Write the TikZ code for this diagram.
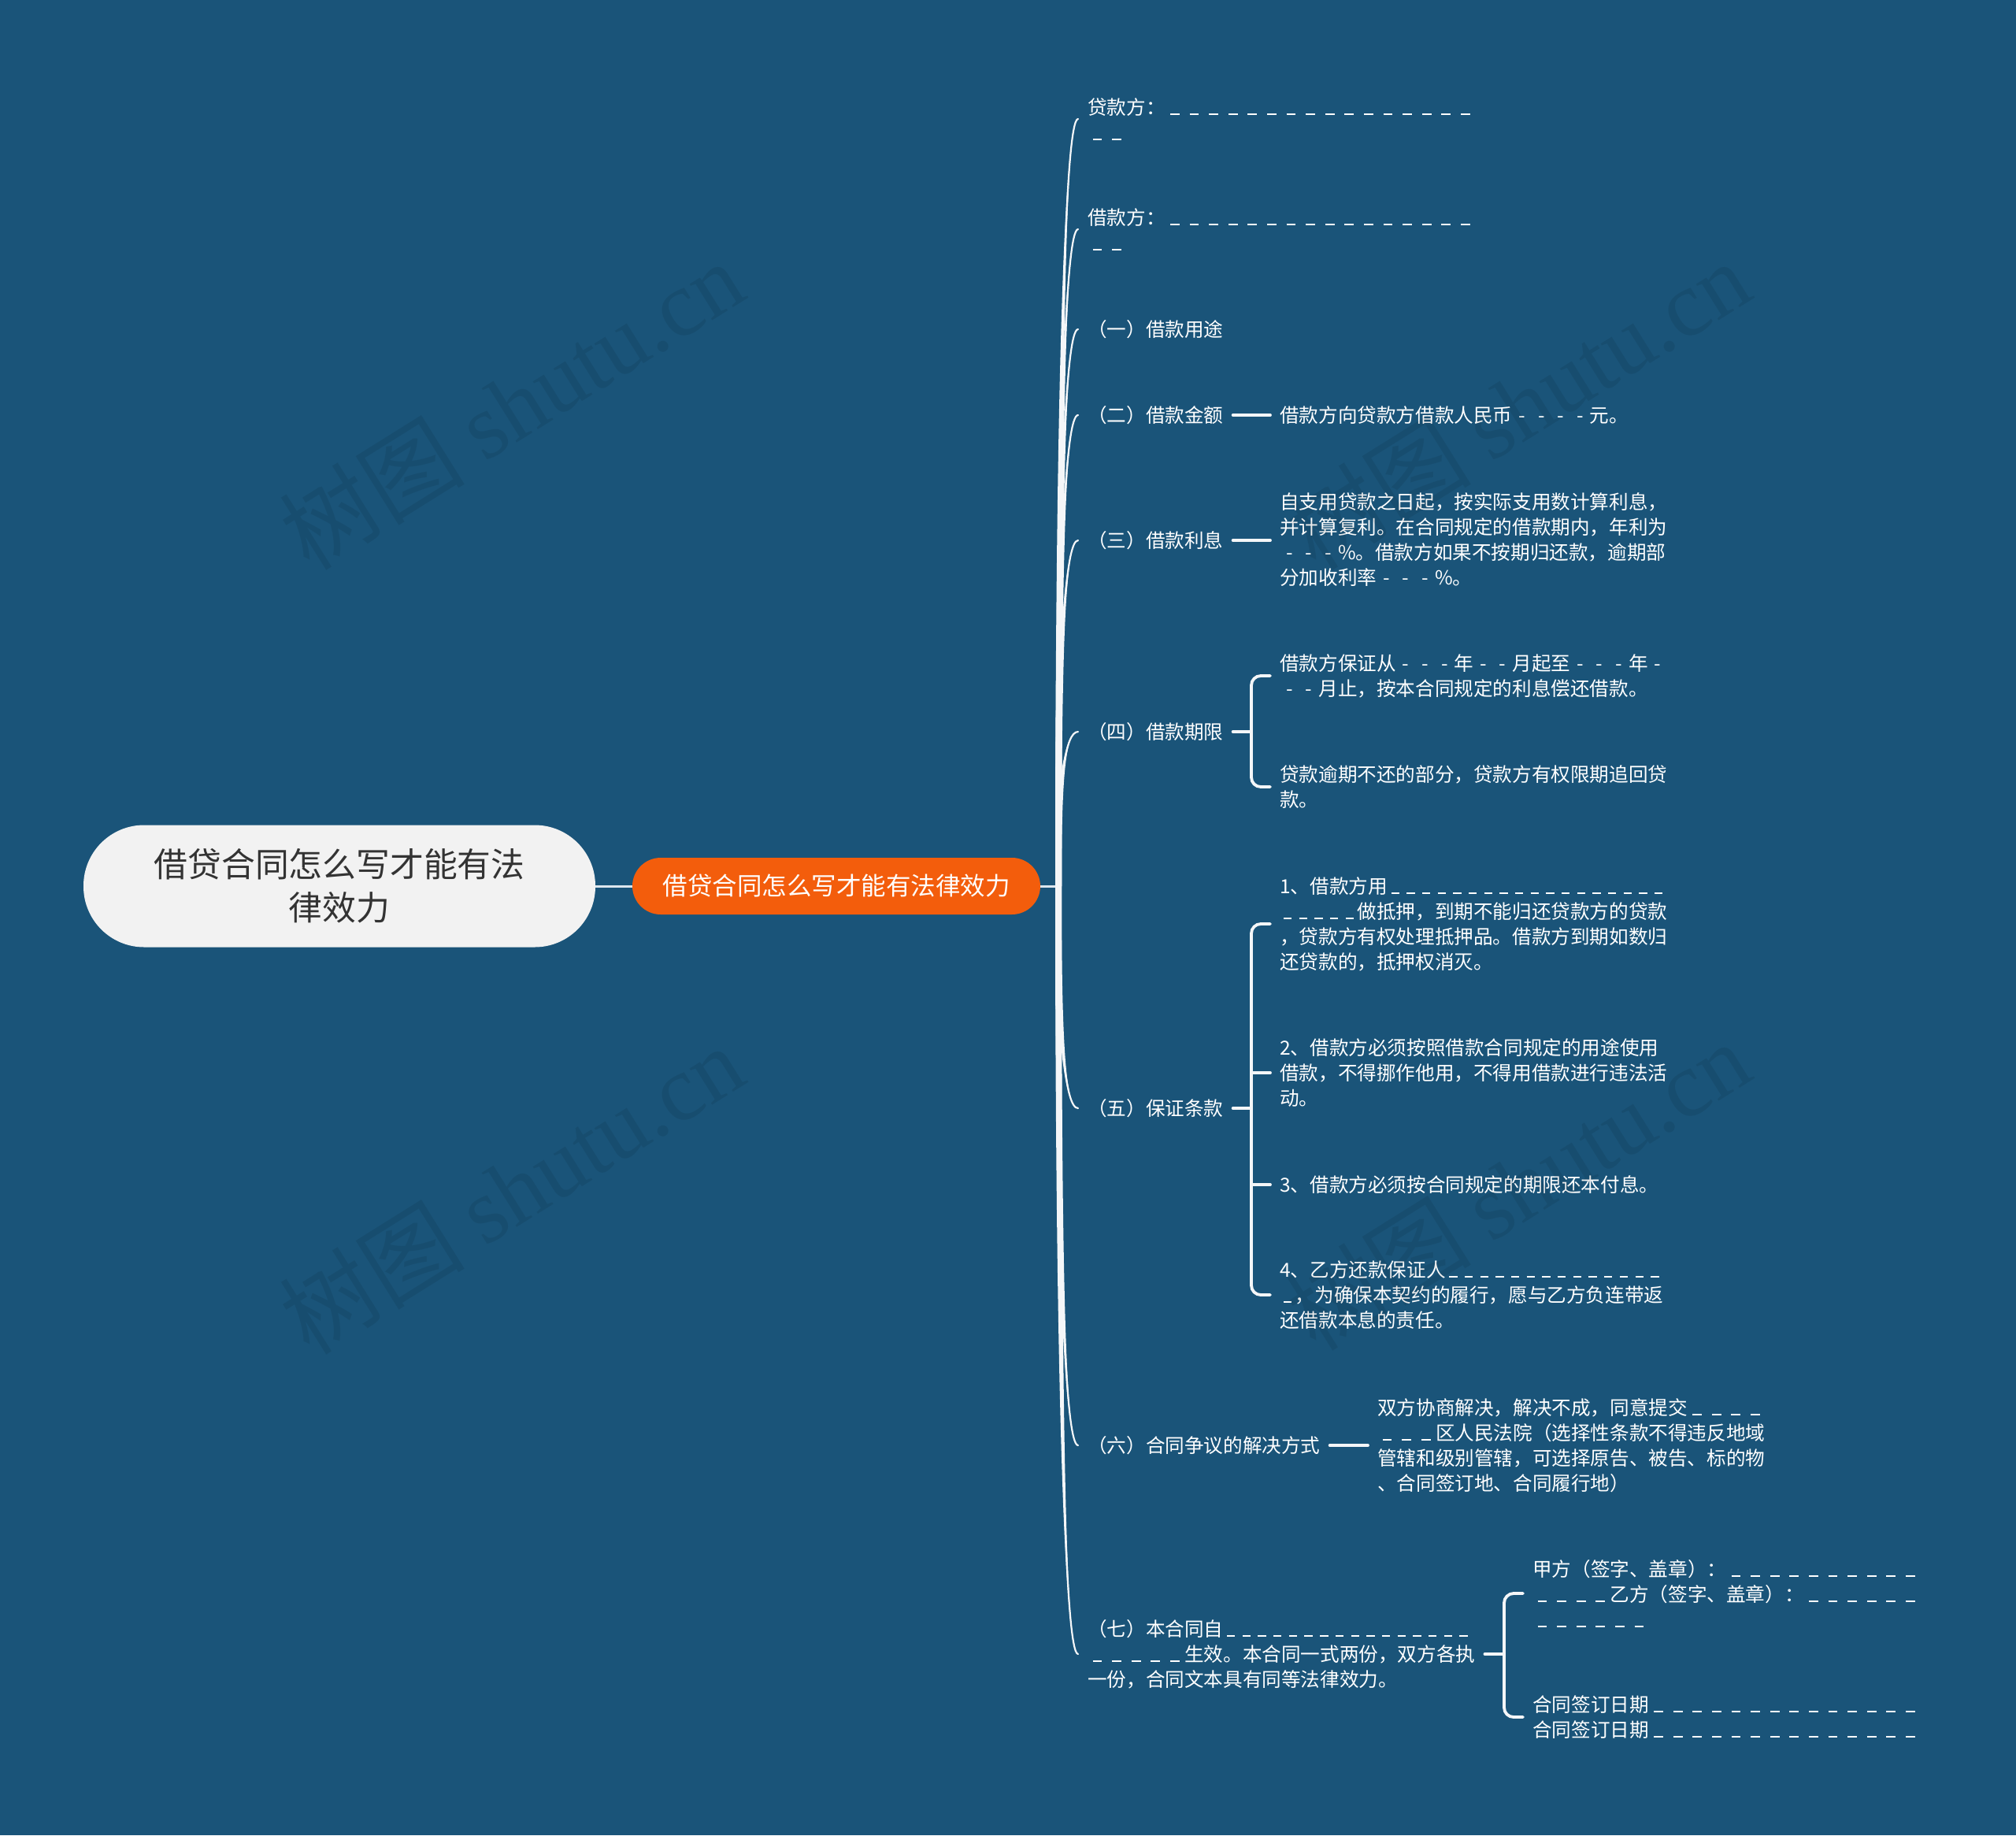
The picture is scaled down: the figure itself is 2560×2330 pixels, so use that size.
\documentclass[tikz,border=0pt]{standalone}
\usepackage{fontspec}
\setmainfont{Noto Sans CJK SC}
\newfontfamily\wmserif{Liberation Serif}
\usetikzlibrary{calc}
\definecolor{bg}{HTML}{1A5479}
\definecolor{orng}{HTML}{F35D0C}
\definecolor{rootfill}{HTML}{F2F2F2}
\definecolor{roottext}{HTML}{333333}
\definecolor{connc}{HTML}{F4F6F8}
\definecolor{rootline}{HTML}{DCE6EE}
\newcount\rc
\newcommand\rep[2]{\rc=#1\relax\loop\ifnum\rc>0 #2\advance\rc by -1\relax\repeat}
\newcommand\dashbar{\rule[-0.03em]{0.48em}{0.07em}}
\newcommand\hy[1]{\rep{#1}{\makebox[1em][c]{-}}}
\newcommand\ub[1]{\rep{#1}{\makebox[1em][c]{\dashbar}}}
\newcommand\ubm[1]{\rep{#1}{\makebox[0.8em][c]{\rule[-0.03em]{0.42em}{0.07em}}}}
\newcommand\branch[1]{%
  \fill[connc] ($(T)+(-4,0)$) .. controls ($(T)!0.67!(T|-#1.west)+(-4,0)$) and ($(T|-#1.west)!0.33!(#1.west)$) .. (#1.west)
     .. controls ($(T|-#1.west)!0.33!(#1.west)$) and ($(T)!0.67!(T|-#1.west)+(4,0)$) .. ($(T)+(4,0)$) -- cycle;
  \draw[connc, line width=2.2pt, line cap=round] (T) .. controls ($(T)!0.67!(T|-#1.west)$) and ($(T|-#1.west)!0.33!(#1.west)$) .. (#1.west);}
\tikzset{
  txt/.style={anchor=west, inner xsep=12pt, inner ysep=0pt, align=left, text=white,
    font=\fontsize{24.6pt}{32pt}\selectfont},
  conn/.style={draw=connc, line width=3.8pt, line cap=round},
  rootnode/.style={rectangle, rounded corners=77pt, minimum width=650pt, minimum height=155pt,
    fill=rootfill, text=roottext, align=center, inner sep=0pt, font=\fontsize{42.8pt}{55pt}\selectfont},
  mainnode/.style={rectangle, rounded corners=36pt, minimum width=518pt, minimum height=72pt,
    fill=orng, text=white, align=center, inner sep=0pt, font=\fontsize{31.5pt}{38pt}\selectfont},
  wm/.style={text=black, text opacity=0.08, inner sep=0pt, font=\fontsize{118pt}{130pt}\selectfont}
}
\begin{document}
\begin{tikzpicture}[x=1pt,y=-1pt]
\fill[bg] (0,0) rectangle (2560,2330);
\useasboundingbox (0,0) rectangle (2560,2330);

\node[rootnode] (root) at (431,1125) {借贷合同怎么写才能有法\\律效力};
\node[mainnode] (main) at (1062,1125) {借贷合同怎么写才能有法律效力};
\coordinate (T) at (1344,1125);
\draw[rootline, line width=3pt] (root.east) -- (main.west);
\draw[rootline, line width=3pt] (main.east) -- (T);

% level 2
\node[txt] (n1) at (1369,151) {贷款方：\ub{16}\\\ub{2}};
\node[txt] (n2) at (1369,291) {借款方：\ub{16}\\\ub{2}};
\node[txt] (n3) at (1369,418) {（一）借款用途};
\node[txt] (n4) at (1369,527) {（二）借款金额};
\node[txt] (n5) at (1369,686) {（三）借款利息};
\node[txt] (n6) at (1369,929) {（四）借款期限};
\node[txt] (n7) at (1369,1407) {（五）保证条款};
\node[txt] (n8) at (1369,1835) {（六）合同争议的解决方式};
\node[txt] (n9) at (1369,2100) {（七）本合同自\ubm{16}\\\ub{5}生效。本合同一式两份，双方各执\\一份，合同文本具有同等法律效力。};

\branch{n1}\branch{n2}\branch{n3}\branch{n4}\branch{n5}\branch{n6}\branch{n7}\branch{n8}\branch{n9}

% level 3
\node[txt] (c4) at (1613,527) {借款方向贷款方借款人民币\hy{4}元。};
\node[txt] (c5) at (1613,685) {自支用贷款之日起，按实际支用数计算利息，\\并计算复利。在合同规定的借款期内，年利为\\\hy{3}\%。借款方如果不按期归还款，逾期部\\分加收利率\hy{3}\%。};
\node[txt] (c61) at (1613,858) {借款方保证从\hy{3}年\hy{2}月起至\hy{3}年\hy{1}\\\hy{2}月止，按本合同规定的利息偿还借款。};
\node[txt] (c62) at (1613,999) {贷款逾期不还的部分，贷款方有权限期追回贷\\款。};
\node[txt] (c71) at (1613,1173) {1、借款方用\ubm{18}\\\ubm{5}做抵押，到期不能归还贷款方的贷款\\，贷款方有权处理抵押品。借款方到期如数归\\还贷款的，抵押权消灭。};
\node[txt] (c72) at (1613,1362) {2、借款方必须按照借款合同规定的用途使用\\借款，不得挪作他用，不得用借款进行违法活\\动。};
\node[txt] (c73) at (1613,1504) {3、借款方必须按合同规定的期限还本付息。};
\node[txt] (c74) at (1613,1644) {4、乙方还款保证人\ubm{14}\\\ubm{1}，为确保本契约的履行，愿与乙方负连带返\\还借款本息的责任。};
\node[txt] (c8) at (1737,1835) {双方协商解决，解决不成，同意提交\ub{4}\\\ub{3}区人民法院（选择性条款不得违反地域\\管辖和级别管辖，可选择原告、被告、标的物\\、合同签订地、合同履行地）};
\node[txt] (c91) at (1934,2023) {甲方（签字、盖章）：\ub{10}\\\ub{4}乙方（签字、盖章）：\ub{6}\\\ub{6}};
\node[txt] (c92) at (1934,2180) {合同签订日期\ub{14}\\合同签订日期\ub{14}};

% connectors level 2 -> 3
\draw[conn] (n4.east) -- (n4.east -| c4.west);
\draw[conn] (n5.east) -- (n5.east -| c5.west);
\draw[conn] (n6.east) -- ($(n6.east -| c61.west)+(-24,0)$);
\draw[conn, rounded corners=12pt] (c61.west) -| ($(c62.west)+(-24,0)$) -- (c62.west);
\draw[conn] (n7.east) -- ($(n7.east -| c71.west)+(-24,0)$);
\draw[conn, rounded corners=12pt] (c71.west) -| ($(c74.west)+(-24,0)$) -- (c74.west);
\draw[conn] (c72.west) -- ++(-24,0);
\draw[conn] (c73.west) -- ++(-24,0);
\draw[conn] (n8.east) -- (n8.east -| c8.west);
\draw[conn] (n9.east) -- ($(n9.east -| c91.west)+(-24,0)$);
\draw[conn, rounded corners=12pt] (c91.west) -| ($(c92.west)+(-24,0)$) -- (c92.west);

% watermarks
\node[wm, rotate=32] (w1) at (649,514) {树图 {\wmserif shutu.cn}};
\node[wm, rotate=32] (w2) at (1927,514) {树图 {\wmserif shutu.cn}};
\node[wm, rotate=32] (w3) at (649,1510) {树图 {\wmserif shutu.cn}};
\node[wm, rotate=32] (w4) at (1927,1505) {树图 {\wmserif shutu.cn}};
\end{tikzpicture}
\end{document}
